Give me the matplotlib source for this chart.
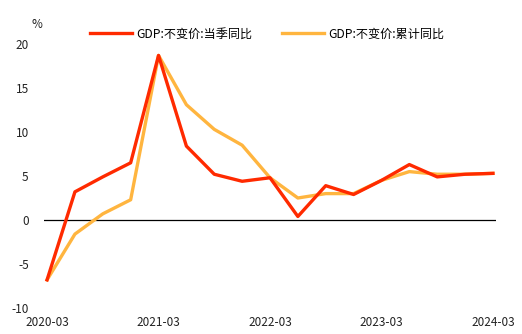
import matplotlib.pyplot as plt

plt.rcParams['font.family'] = ['Noto Sans CJK SC', 'DejaVu Sans']
plt.rcParams['axes.unicode_minus'] = False

# 季度数据
quarters = ['2020-03', '2020-06', '2020-09', '2020-12',
            '2021-03', '2021-06', '2021-09', '2021-12',
            '2022-03', '2022-06', '2022-09', '2022-12',
            '2023-03', '2023-06', '2023-09', '2023-12',
            '2024-03']
dangji = [-6.8, 3.2, 4.9, 6.5,
          18.7, 8.4, 5.2, 4.4,
          4.8, 0.4, 3.9, 2.9,
          4.5, 6.3, 4.9, 5.2,
          5.3]
leiji = [-6.8, -1.6, 0.7, 2.3,
         18.7, 13.1, 10.3, 8.5,
         4.8, 2.5, 3.0, 3.0,
         4.5, 5.5, 5.2, 5.2,
         5.3]
tick_labels = ['2020-03', '2021-03', '2022-03', '2023-03', '2024-03']

fig = plt.figure(figsize=(5.22, 3.34), dpi=100)
ax = fig.add_axes([44 / 522, 26 / 334, 452 / 522, 264 / 334])

x = list(range(len(quarters)))
ax.axhline(0, color='black', lw=0.9, zorder=1)
ax.plot(x, dangji, color='#FF2A00', lw=2.4, label='GDP:不变价:当季同比', zorder=3)
ax.plot(x, leiji, color='#FFB53F', lw=2.4, label='GDP:不变价:累计同比', zorder=2)

ax.set_ylim(-10, 20)
ax.set_xlim(-0.11, 16.11)
ax.set_yticks([-10, -5, 0, 5, 10, 15, 20])
ax.set_xticks([quarters.index(t) for t in tick_labels])
ax.set_xticklabels(tick_labels)
ax.tick_params(axis='both', length=0, labelsize=8.5, colors='#222222')
ax.tick_params(axis='y', pad=11)
ax.tick_params(axis='x', pad=6)
for s in ax.spines.values():
    s.set_visible(False)

fig.text(37 / 522, 1 - 24 / 334, '%', fontsize=8.5, ha='center', va='center', color='#222222')

ax.legend(loc='center left', bbox_to_anchor=(46 / 452, 1 + 10 / 264),
          ncol=2, frameon=False, fontsize=8.7, handlelength=3.5, handletextpad=0.35,
          columnspacing=2.4, borderaxespad=0, borderpad=0)

fig.savefig('out.png', dpi=100)
